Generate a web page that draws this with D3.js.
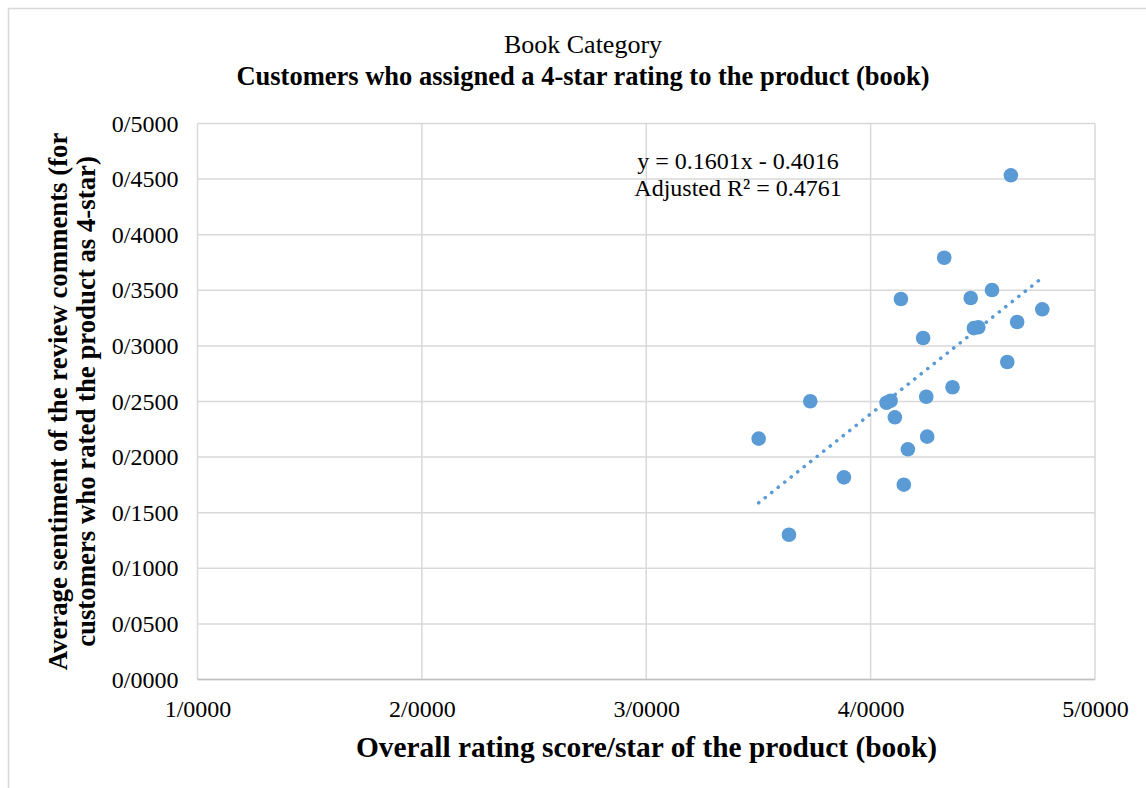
<!DOCTYPE html>
<html><head><meta charset="utf-8">
<script src="https://cdn.jsdelivr.net/npm/d3@7"></script>
<style>body{margin:0;background:#fff}svg{display:block}text{font-family:"Liberation Serif","Times New Roman",serif;fill:#000}</style>
</head><body>
<svg id="c" width="1146" height="788"></svg>
<script>
const ratingX = [4.625,4.328,4.135,4.446,4.541,4.765,4.653,4.460,4.480,4.234,4.609,4.365,4.248,3.731,4.071,4.089,4.108,3.501,4.252,4.166,3.881,4.148,3.636];
const sentimentY = [0.4534,0.3793,0.3422,0.3431,0.3503,0.3329,0.3215,0.3160,0.3168,0.3071,0.2855,0.2628,0.2543,0.2502,0.2489,0.2507,0.2358,0.2166,0.2184,0.2070,0.1818,0.1752,0.1302];
const xTicks = [1,2,3,4,5];
const yTicks = [0,0.05,0.1,0.15,0.2,0.25,0.3,0.35,0.4,0.45,0.5];
const slope = 0.1601, intercept = -0.4016;
const eqLabel = "y = 0.1601x - 0.4016";
const r2Label = "Adjusted R² = 0.4761";
const title1 = "Book Category";
const title2 = "Customers who assigned a 4-star rating to the product (book)";
const xTitle = "Overall rating score/star of the product (book)";
const yTitle = ["Average sentiment of the review comments (for","customers who rated the product as 4-star)"];

const svg = d3.select("#c");
const L=197.5,R=1095,T=123.5,B=679.5;
const x = d3.scaleLinear().domain([1,5]).range([L,R]);
const y = d3.scaleLinear().domain([0,0.5]).range([B,T]);
const fmt = v => v.toFixed(4).replace(".","/");
const grid="#d9d9d9";

svg.append("rect").attr("x",8.5).attr("y",8.5).attr("width",1200).attr("height",900).attr("fill","none").attr("stroke",grid).attr("stroke-width",1.5);

// grid
svg.append("g").selectAll("line").data(yTicks).join("line")
  .attr("x1",L).attr("x2",R).attr("y1",d=>y(d)).attr("y2",d=>y(d)).attr("stroke",grid).attr("stroke-width",1.5);
svg.append("g").selectAll("line").data(xTicks).join("line")
  .attr("y1",T).attr("y2",B).attr("x1",d=>x(d)).attr("x2",d=>x(d)).attr("stroke",grid).attr("stroke-width",1.5);
svg.append("line").attr("x1",L).attr("x2",R).attr("y1",B).attr("y2",B).attr("stroke","#bfbfbf").attr("stroke-width",1.5);

// axes labels via d3 axes
const ya = svg.append("g").attr("transform",`translate(${L},0)`).call(d3.axisLeft(y).tickValues(yTicks).tickFormat(fmt).tickSize(0).tickPadding(19));
ya.select(".domain").remove();
ya.attr("font-family",null).attr("font-size",null);
ya.selectAll("text").style("font-family","'Liberation Serif'").style("font-size","24px").attr("fill","#000");
const xa = svg.append("g").attr("transform",`translate(0,${B})`).call(d3.axisBottom(x).tickValues(xTicks).tickFormat(fmt).tickSize(0).tickPadding(20));
xa.select(".domain").remove();
xa.attr("font-family",null).attr("font-size",null);
xa.selectAll("text").style("font-family","'Liberation Serif'").style("font-size","24px").attr("fill","#000");

// trendline
const xmin=d3.min(ratingX), xmax=d3.max(ratingX);
svg.append("line").attr("x1",x(xmin)).attr("y1",y(slope*xmin+intercept)).attr("x2",x(xmax)).attr("y2",y(slope*xmax+intercept))
  .attr("stroke","#5b9bd5").attr("stroke-width",3.6).attr("stroke-linecap","round").attr("stroke-dasharray","0.1 8.2");

// points
svg.append("g").selectAll("circle").data(ratingX).join("circle")
  .attr("cx",d=>x(d)).attr("cy",(d,i)=>y(sentimentY[i])).attr("r",7.3).attr("fill","#5b9bd5");

// equation
svg.append("text").attr("x",738).attr("y",169).attr("text-anchor","middle").style("font-size","24px").text(eqLabel);
svg.append("text").attr("x",738).attr("y",196).attr("text-anchor","middle").style("font-size","24px").text(r2Label);

// titles
svg.append("text").attr("x",583).attr("y",53).attr("text-anchor","middle").style("font-size","26px").text(title1);
svg.append("text").attr("x",583).attr("y",85).attr("text-anchor","middle").style("font-size","26.5px").attr("font-weight","bold").text(title2);
svg.append("text").attr("x",646.5).attr("y",757).attr("text-anchor","middle").style("font-size","29.4px").attr("font-weight","bold").text(xTitle);
const yt = svg.append("text").attr("transform",`translate(0,401.5) rotate(-90)`).attr("text-anchor","middle").style("font-size","26.8px").attr("font-weight","bold");
yt.append("tspan").attr("x",0).attr("y",67).text(yTitle[0]);
yt.append("tspan").attr("x",0).attr("y",95).text(yTitle[1]);
</script>
</body></html>
